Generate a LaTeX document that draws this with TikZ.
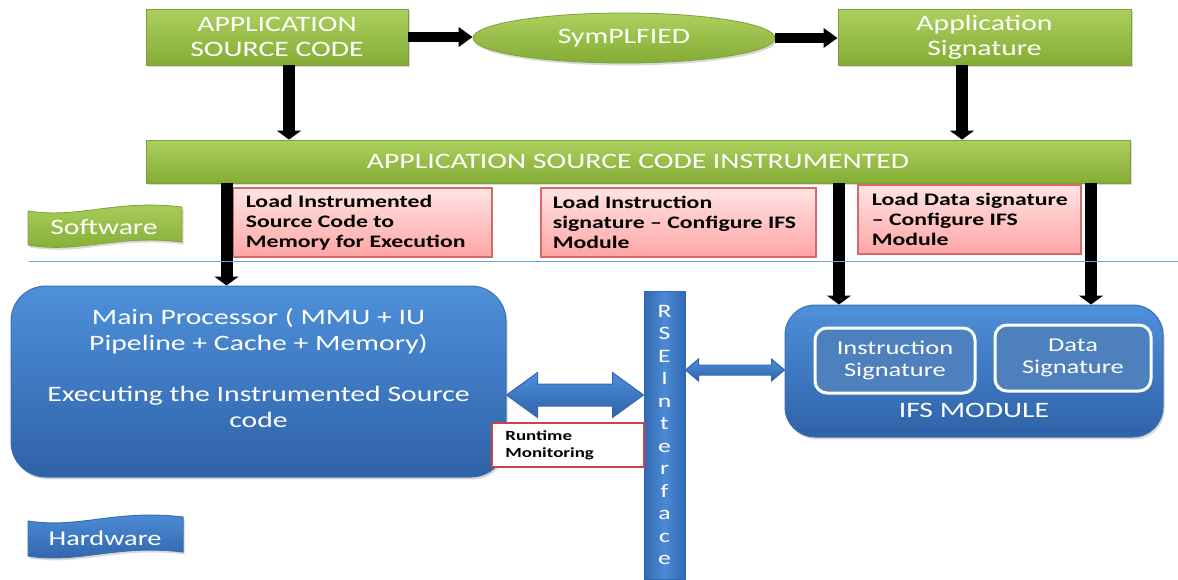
\documentclass[tikz,border=0pt]{standalone}
\usepackage{fontspec}
\setmainfont{Carlito}[FakeStretch=1.35]
\usetikzlibrary{arrows.meta,calc,shapes.geometric,shadows}

\definecolor{grntop}{RGB}{172,208,94}
\definecolor{grnbot}{RGB}{132,172,52}
\definecolor{grnedge}{RGB}{125,160,60}
\definecolor{bluetop}{RGB}{78,144,218}
\definecolor{bluebot}{RGB}{47,98,168}
\definecolor{blueedge}{RGB}{60,110,180}
\definecolor{pinktop}{RGB}{255,228,228}
\definecolor{pinkbot}{RGB}{255,165,165}
\definecolor{pinkedge}{RGB}{215,105,105}
\definecolor{rtedge}{RGB}{200,70,70}
\definecolor{innerfill}{RGB}{78,128,190}
\definecolor{sepblue}{RGB}{110,160,215}
\definecolor{rsemid}{RGB}{75,138,212}
\definecolor{rseside}{RGB}{50,105,180}

\newcommand\dblarw[5]{% #1,#2 = end points, #3 = head length, #4 = head half height, #5 = body half height
  \path[arrowfill] (#1) -- ($(#1)+(#3,-#4)$) -- ($(#1)+(#3,-#5)$) -- ($(#2)+(-#3,-#5)$)
    -- ($(#2)+(-#3,-#4)$) -- (#2) -- ($(#2)+(-#3,#4)$) -- ($(#2)+(-#3,#5)$)
    -- ($(#1)+(#3,#5)$) -- ($(#1)+(#3,#4)$) -- cycle;}

\begin{document}
\begin{tikzpicture}[x=0.5pt,y=-0.5pt,
  shade/.style={drop shadow={opacity=0.3,shadow xshift=0.8pt,shadow yshift=-1.2pt}},
  greenbox/.style={rectangle,draw=grnedge,line width=0.4pt,top color=grntop,bottom color=grnbot,
    text=white,font=\fontsize{11}{12.5}\selectfont,align=center,inner sep=0pt,shade},
  greenell/.style={greenbox,ellipse},
  bluebox/.style={rectangle,draw=blueedge,line width=0.5pt,top color=bluetop,bottom color=bluebot,
    inner sep=0pt,shade},
  innerbox/.style={rectangle,rounded corners=6pt,draw=white,line width=1.5pt,fill=innerfill,
    text=white,font=\fontsize{9.8}{11}\selectfont,align=center,inner sep=0pt},
  pinkbox/.style={rectangle,draw=pinkedge,line width=0.6pt,top color=pinktop,bottom color=pinkbot,inner sep=0pt},
  pinktext/.style={font=\bfseries\fontsize{8.8}{10}\selectfont,align=left,inner sep=0pt,anchor=west},
  rtbox/.style={rectangle,draw=rtedge,line width=1pt,fill=white,inner sep=0pt},
  rttext/.style={font=\bfseries\fontsize{7}{8.5}\selectfont,align=left,inner sep=0pt,anchor=west},
  rsebar/.style={rectangle,draw=rseside,line width=0.5pt,left color=rseside,right color=rseside,
    middle color=rsemid,inner sep=0pt},
  rsech/.style={text=white,font=\fontsize{9.5}{10}\selectfont,inner sep=0pt,anchor=base},
  whitetext/.style={text=white,align=center,inner sep=0pt},
  varrow/.style={draw=black,line width=6pt,-{Triangle[length=4.5pt,width=12pt]}},
  harrow/.style={draw=black,line width=5pt,-{Triangle[length=7pt,width=9.5pt]}},
  arrowfill/.style={draw=rseside,line width=0.5pt,top color=bluetop,bottom color=bluebot},
  sepline/.style={draw=sepblue,line width=0.5pt},
  greenbanner/.style={draw=grnedge,line width=0.4pt,top color=grntop,bottom color=grnbot,shade},
  bluebanner/.style={draw=blueedge,line width=0.5pt,top color=bluetop,bottom color=bluebot,shade}
]
\useasboundingbox (0,0) rectangle (1178,579);

% software flow
\node[greenbox,minimum width=131pt,minimum height=28pt] (asc) at (277,37) {APPLICATION\\SOURCE CODE};
\node[greenell,minimum width=151pt,minimum height=25pt] (sym) at (624,38) {SymPLFIED};
\node[greenbox,minimum width=146.5pt,minimum height=28pt] (sig) at (984.5,37) {Application\\Signature};
\node[greenbox,minimum width=492pt,minimum height=21.5pt] (bar) at (638,161.5) {APPLICATION SOURCE CODE INSTRUMENTED};

% load steps
\node[pinkbox,minimum width=129.5pt,minimum height=34.5pt] (ld1) at (362.5,222.5) {};
\node[pinktext] (ld1t) at ($(ld1.west)+(13,0)$) {Load Instrumented\\Source Code to\\Memory for Execution};
\node[pinkbox,minimum width=137.5pt,minimum height=34.5pt] (ld2) at (678.5,222.5) {};
\node[pinktext] (ld2t) at ($(ld2.west)+(12,0)$) {Load Instruction\\signature -- Configure IFS\\Module};
\node[pinkbox,minimum width=111.5pt,minimum height=34.5pt] (ld3) at (969.5,219.5) {};
\node[pinktext] (ld3t) at ($(ld3.west)+(14,0)$) {Load Data signature\\-- Configure IFS\\Module};

% layer banners
\path[greenbanner] (28,211) .. controls (80,219) and (115,199) .. (182,207) -- (182,242)
  .. controls (115,234) and (80,254) .. (28,245) -- cycle;
\node[whitetext,font=\fontsize{11}{12}\selectfont] (sw) at (104,227) {Software};
\path[bluebanner] (28,521) .. controls (80,529) and (115,509) .. (183,517) -- (183,552)
  .. controls (115,544) and (80,564) .. (28,556) -- cycle;
\node[whitetext,font=\fontsize{10.5}{12}\selectfont] (hw) at (105,538) {Hardware};

% hardware blocks
\node[bluebox,minimum width=247.5pt,minimum height=95.5pt,rounded corners=17.5pt] (main) at (258.5,381.5) {};
\node[whitetext,font=\fontsize{11}{13}\selectfont] (maintxt) at ($(main.center)+(0,-13.5)$)
  {Main Processor ( MMU + IU\\Pipeline + Cache + Memory)\\[12.5pt]Executing the Instrumented Source\\code};

\node[rsebar,minimum width=20.5pt,minimum height=144pt] (rse) at (664.5,435) {};
\foreach \ch [count=\i] in {R,S,E,I,n,t,e,r,f,a,c,e}
  \node[rsech] (rse\i) at (664.5,{317+22.5*(\i-1)}) {\ch};

\node[bluebox,minimum width=189pt,minimum height=66pt,rounded corners=15pt] (ifs) at (974,371) {};
\node[innerbox,minimum width=80pt,minimum height=32.5pt] (isig) at (895,360.5) {Instruction\\Signature};
\node[innerbox,minimum width=78pt,minimum height=33pt] (dsig) at (1073,358) {Data\\Signature};
\node[whitetext,font=\fontsize{11}{12}\selectfont] (ifslbl) at (974,410) {IFS MODULE};

\node[rtbox,minimum width=76pt,minimum height=22pt] (rt) at (568,445) {};
\node[rttext] (rtt) at ($(rt.west)+(14,0)$) {Runtime\\Monitoring};

% two-way links through the interface
\coordinate (bigL) at (main.east |- 0,395);
\coordinate (bigR) at (rse.west |- 0,395);
\dblarw{bigL}{bigR}{31}{22.5}{11}
\coordinate (smL) at (rse.east |- 0,370);
\coordinate (smR) at (ifs.west |- 0,370);
\dblarw{smL}{smR}{13}{11}{5}

% column positions of the vertical arrows
\coordinate (xa) at (289,0);
\coordinate (xb) at (962,0);
\coordinate (xc) at (226.5,0);
\coordinate (xd) at (839,0);
\coordinate (xe) at (1091,0);

\draw[harrow] (asc.east) -- (asc.east -| sym.west);
\draw[harrow] (sym.east) -- (sym.east -| sig.west);
\draw[varrow] (asc.south -| xa) -- (bar.north -| xa);
\draw[varrow] (sig.south -| xb) -- (bar.north -| xb);
\draw[varrow] (bar.south -| xc) -- (main.north -| xc);
\draw[varrow] (bar.south -| xd) -- (ifs.north -| xd);
\draw[varrow] (bar.south -| xe) -- (ifs.north -| xe);

% software / hardware boundary
\draw[sepline] (29,261) -- (1178,261);
\end{tikzpicture}
\end{document}
